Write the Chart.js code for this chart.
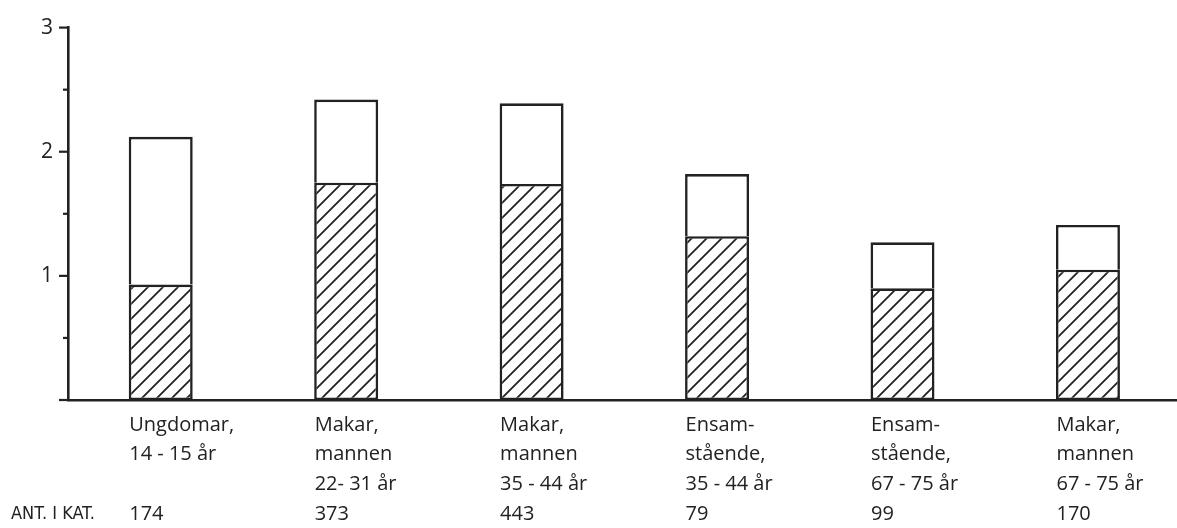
<!DOCTYPE html>
<html>
<head>
<meta charset="utf-8">
<script src="https://cdn.jsdelivr.net/npm/chart.js@4/dist/chart.umd.min.js"></script>
<style>
  html, body { margin: 0; padding: 0; background: #fff; overflow: hidden; }
  #wrap { width: 1185px; height: 528px; }
</style>
</head>
<body>
<div id="wrap"><canvas id="c" width="1185" height="528"></canvas></div>
<script>
// ---- data ----
const categories = [
  ["Ungdomar,", "14 - 15 år"],
  ["Makar,", "mannen", "22- 31 år"],
  ["Makar,", "mannen", "35 - 44 år"],
  ["Ensam-", "stående,", "35 - 44 år"],
  ["Ensam-", "stående,", "67 - 75 år"],
  ["Makar,", "mannen", "67 - 75 år"]
];
const counts = [174, 373, 443, 79, 99, 170];
const countLabel = "ANT. I KAT.";
const hatchedValues = [0.93, 1.75, 1.74, 1.32, 0.90, 1.05];
const totalValues   = [2.12, 2.42, 2.39, 1.82, 1.27, 1.41];
const yTickLabels = [1, 2, 3];

const INK = '#222';
const FONT = "'Open Sans', sans-serif";

// hatch pattern
function makeHatch() {
  const s = 15;
  const p = document.createElement('canvas');
  p.width = s; p.height = s;
  const g = p.getContext('2d');
  g.fillStyle = '#fff';
  g.fillRect(0, 0, s, s);
  g.strokeStyle = INK;
  g.lineWidth = 1.8;
  g.beginPath();
  g.moveTo(-2, s + 2); g.lineTo(s + 2, -2);
  g.moveTo(-2, 2); g.lineTo(2, -2);
  g.moveTo(s - 2, s + 2); g.lineTo(s + 2, s - 2);
  g.stroke();
  return document.getElementById('c').getContext('2d').createPattern(p, 'repeat');
}
const hatch = makeHatch();

const tickPlugin = {
  id: 'handTicks',
  afterDraw(chart) {
    const ctx = chart.ctx;
    const y = chart.scales.y;
    const x = chart.scales.x;
    const ax = chart.chartArea.left;
    ctx.save();
    ctx.strokeStyle = INK;
    ctx.lineWidth = 2.2;
    y.ticks.forEach(t => {
      const py = y.getPixelForValue(t.value);
      const len = Number.isInteger(t.value) ? 9 : 5;
      ctx.beginPath();
      ctx.moveTo(ax - len, py);
      ctx.lineTo(ax, py);
      ctx.stroke();
    });
    // row caption for counts, aligned with last label line
    const lh = 20 * 1.485;
    const rowY = x.top + 10 + lh * 3.5;
    ctx.fillStyle = INK;
    ctx.font = "18px 'DejaVu Sans Condensed', 'DejaVu Sans', sans-serif";
    ctx.textAlign = 'left';
    ctx.textBaseline = 'middle';
    ctx.fillText(countLabel, 11, rowY);
    ctx.restore();
  }
};

new Chart(document.getElementById('c'), {
  type: 'bar',
  data: {
    labels: categories,
    datasets: [
      {
        data: totalValues.map((t, i) => [hatchedValues[i], t]),
        backgroundColor: '#fff',
        borderColor: INK,
        borderWidth: 2.6,
        borderSkipped: 'bottom',
        grouped: false,
        categoryPercentage: 1,
        barPercentage: 0.345,
        order: 2
      },
      {
        data: hatchedValues,
        backgroundColor: hatch,
        borderColor: INK,
        borderWidth: 2.6,
        borderSkipped: false,
        grouped: false,
        categoryPercentage: 1,
        barPercentage: 0.345,
        order: 1
      }
    ]
  },
  plugins: [tickPlugin],
  options: {
    responsive: false,
    animation: false,
    devicePixelRatio: 1,
    layout: { padding: { top: 24, left: 0, right: 0, bottom: 0 } },
    plugins: { legend: { display: false }, tooltip: { enabled: false } },
    scales: {
      x: {
        type: 'category',
        offset: true,
        afterFit(s) { s.height = 128; },
        grid: { display: false, drawTicks: false },
        border: { display: true, color: INK, width: 2.6 },
        ticks: {
          autoSkip: false,
          maxRotation: 0,
          align: 'start',
          labelOffset: -31.5,
          padding: 10,
          color: INK,
          font: { family: FONT, size: 20, lineHeight: 1.485 },
          callback(v, i) {
            const lines = categories[i].slice();
            while (lines.length < 3) lines.push('');
            lines.push(String(counts[i]));
            return lines;
          }
        }
      },
      y: {
        min: 0,
        max: 3,
        afterFit(s) { s.width = 68; },
        grid: { display: false, drawTicks: false },
        border: { display: true, color: INK, width: 2.6 },
        ticks: {
          stepSize: 0.5,
          padding: 15,
          color: INK,
          font: { family: FONT, size: 21 },
          callback(v) { return yTickLabels.includes(v) ? String(v) : ''; }
        }
      }
    }
  }
});
</script>
</body>
</html>
